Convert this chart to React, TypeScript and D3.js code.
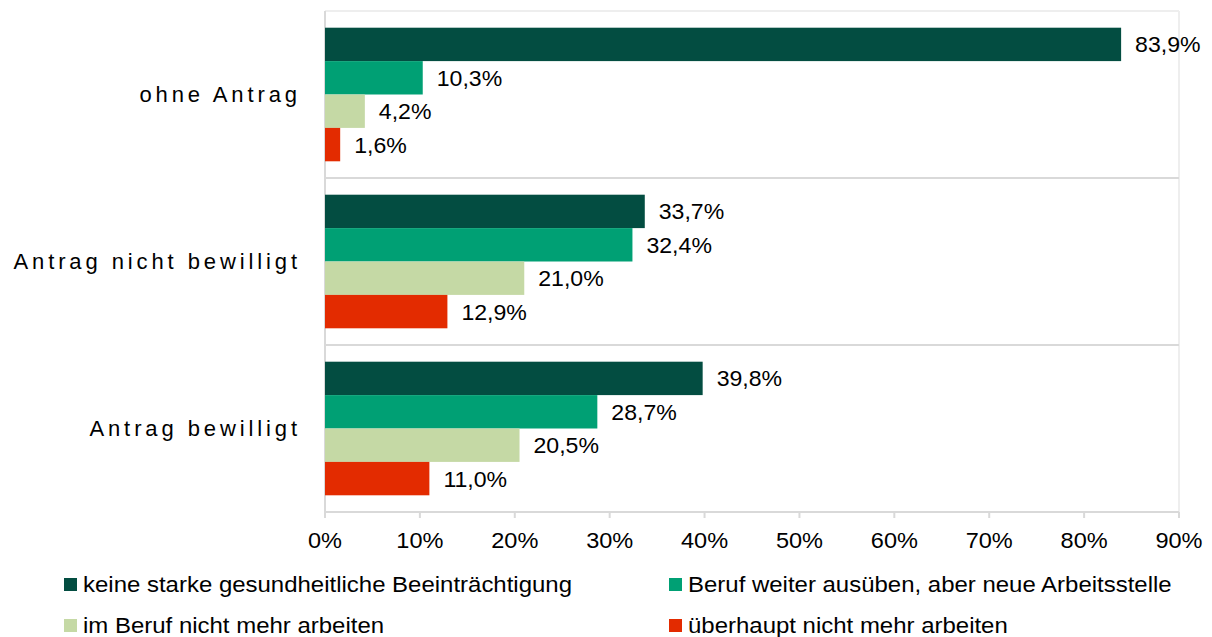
import React from "react";
import * as d3 from "d3";

const categories = ["ohne Antrag", "Antrag nicht bewilligt", "Antrag bewilligt"];
const seriesNames = [
  "keine starke gesundheitliche Beeinträchtigung",
  "Beruf weiter ausüben, aber neue Arbeitsstelle",
  "im Beruf nicht mehr arbeiten",
  "überhaupt nicht mehr arbeiten",
];
const seriesColors = ["#034d41", "#00a074", "#c5d9a5", "#e32b00"];
const values = [
  [83.9, 33.7, 39.8],
  [10.3, 32.4, 28.7],
  [4.2, 21.0, 20.5],
  [1.6, 12.9, 11.0],
];
const ticks = [0, 10, 20, 30, 40, 50, 60, 70, 80, 90];

const W = 1212, H = 637;
const left = 325, right = 1179, top = 11, bottom = 512;
const font = "'Liberation Sans', Arial, sans-serif";

function T({ x, y, anchor = "start", sx = 1.07, size = 22, ls = 0, children }: any) {
  return (
    <text
      transform={`translate(${x},${y}) scale(${sx},1)`}
      textAnchor={anchor}
      fontFamily={font}
      fontSize={size}
      letterSpacing={ls}
      fill="#000"
    >
      {children}
    </text>
  );
}

export default function App() {
  const x = d3.scaleLinear().domain([0, 90]).range([left, right]);
  const y = d3.scaleBand<string>().domain(categories).range([top, bottom]);
  const inner = d3.scaleBand<number>().domain([0, 1, 2, 3]).range([0, y.bandwidth()]).paddingOuter(0.5).paddingInner(0);
  const fmt = (v: number) => v.toFixed(1).replace(".", ",") + "%";
  return (
    <svg width={W} height={H} style={{ position: "absolute", left: 0, top: 0, background: "#fff" }}>
      <rect x={0} y={0} width={W} height={H} fill="#fff" />
      <line x1={left} x2={right} y1={top} y2={top} stroke="#eeeeee" strokeWidth={2} />
      <line x1={right} x2={right} y1={top} y2={bottom} stroke="#eeeeee" strokeWidth={2} />
      {categories.slice(1).map((c) => (
        <line key={c} x1={left} x2={right} y1={y(c)!} y2={y(c)!} stroke="#d9d9d9" strokeWidth={2} />
      ))}
      <line x1={left} x2={right} y1={bottom} y2={bottom} stroke="#d9d9d9" strokeWidth={2} />
      <line x1={left} x2={left} y1={top} y2={bottom + 6} stroke="#d9d9d9" strokeWidth={2} />
      {ticks.map((t) => (
        <g key={t}>
          <line x1={x(t)} x2={x(t)} y1={bottom} y2={bottom + 6} stroke="#d9d9d9" strokeWidth={2} />
          <T x={x(t)} y={548} anchor="middle">{t}%</T>
        </g>
      ))}
      {categories.map((c) => (
        <T key={c} x={301} y={y(c)! + y.bandwidth() / 2 + 7} anchor="end" sx={1} ls={3.9}>
          {c}
        </T>
      ))}
      {values.map((row, si) =>
        row.map((v, ci) => {
          const by = y(categories[ci])! + inner(si)!;
          return (
            <g key={`${si}-${ci}`}>
              <rect x={x(0)} y={by} width={x(v) - x(0)} height={inner.bandwidth()} fill={seriesColors[si]} />
              <T x={x(v) + 14} y={by + inner.bandwidth() / 2 + 8} sx={1.05}>
                {fmt(v)}
              </T>
            </g>
          );
        })
      )}
      {seriesNames.map((s, i) => {
        const lx = i % 2 === 0 ? 64 : 669;
        const ly = i < 2 ? 578 : 619;
        return (
          <g key={s}>
            <rect x={lx} y={ly} width={13} height={13} fill={seriesColors[i]} />
            <T x={lx + 19} y={ly + 14} sx={1.09}>
              {s}
            </T>
          </g>
        );
      })}
    </svg>
  );
}
